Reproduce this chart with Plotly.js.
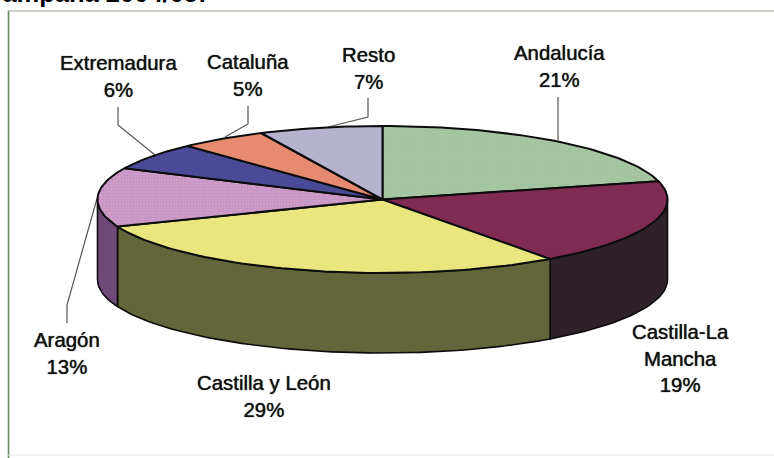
<!DOCTYPE html>
<html><head><meta charset="utf-8">
<script src="https://cdn.plot.ly/plotly-3.0.1.min.js"></script>
<style>html,body{margin:0;padding:0;background:#fff}</style></head>
<body><div id="chart" style="width:774px;height:458px"></div>
<script>
const regions = ["Andalucía","Castilla-La Mancha","Castilla y León","Aragón","Extremadura","Cataluña","Resto"];
const shares = [21,19,29,13,6,5,7];
const topColors = ["#a9c9a2","#7f2b52","#e8e67c","#cf9ccb","#4a4a98","#e68a70","#b5b3cd"];
const sideColors = ["#5f7a58","#2f2129","#63653a","#6f4a78","#2c2c60","#8c5040","#6e6d80"];

const W=774,H=458,CX=382.5,CY=199.5,RX=285,RY=73.5,DEPTH=80;
const STEP=1.5;
const pt=(deg,dy)=>{const t=deg*Math.PI/180;return [CX+RX*Math.sin(t),CY-RY*Math.cos(t)+(dy||0)];};
const arc=(a,b,dy)=>{const o=[];const n=Math.max(2,Math.ceil(Math.abs(b-a)/STEP));
  for(let i=0;i<=n;i++)o.push(pt(a+(b-a)*i/n,dy));return o;};

let cum=0;const slices=shares.map(s=>{const a=cum*3.6;cum+=s;return [a,cum*3.6];});
const traces=[];
slices.forEach(([a,b],i)=>{
  const f=Math.max(a,90),e=Math.min(b,270);
  if(e<=f)return;
  const poly=arc(f,e,0).concat(arc(e,f,DEPTH));poly.push(poly[0]);
  traces.push({type:'scatter',mode:'lines',x:poly.map(p=>p[0]),y:poly.map(p=>p[1]),fill:'toself',
    fillcolor:sideColors[i],line:{color:'#0c0c0c',width:1.6},hoverinfo:'skip',showlegend:false});
});
slices.forEach(([a,b],i)=>{
  const poly=[[CX,CY]].concat(arc(a,b,0));poly.push([CX,CY]);
  const t={type:'scatter',mode:'lines',x:poly.map(p=>p[0]),y:poly.map(p=>p[1]),fill:'toself',
    fillcolor:topColors[i],line:{color:'#0c0c0c',width:2},name:regions[i],showlegend:false,hoverinfo:'name'};
  if(i===0)t.fillpattern={shape:'.',bgcolor:'#a9c9a2',fgcolor:'#a0c2a0',size:3,solidity:0.5};
  if(i===3)t.fillpattern={shape:'.',bgcolor:'#d2a0cc',fgcolor:'#c593c2',size:3,solidity:0.5};
  traces.push(t);
});

const labelFont={family:'"Liberation Sans",Arial,sans-serif',size:20.4,color:'#111',shadow:'0 0 1px #111'};
const labels=[
 ["Andalucía<br>21%",559,66],
 ["Castilla-La<br>Mancha<br>19%",680,358],
 ["Castilla y León<br>29%",264,396],
 ["Aragón<br>13%",67,353],
 ["Extremadura<br>6%",118,76],
 ["Cataluña<br>5%",248,75],
 ["Resto<br>7%",368,68]
];
const annotations=labels.map(([text,x,y])=>({text,x:x,y:y,xref:'x',yref:'y',showarrow:false,align:'center',
  xanchor:'center',yanchor:'middle',font:labelFont}));
annotations.push({text:"Campaña 2004/05:",x:-18/W,y:1-9/H,xref:'paper',yref:'paper',xanchor:'left',yanchor:'bottom',showarrow:false,
  font:{family:'"Liberation Sans",Arial,sans-serif',size:25.5,color:'#000',weight:700}});

const leaders=["M558,97 L558,140","M368,98 L368,117 L328,127","M248,106 L248,124 L225,137",
 "M118,107 L118,125 L155,155","M98,195 L67,305 L67,323"];
const shapes=leaders.map(path=>({type:'path',path,xref:'x',yref:'y',line:{color:'#555',width:1.2},layer:'below'}));
shapes.push({type:'line',xref:'x',yref:'y',x0:8.5,x1:8.5,y0:11,y1:458,line:{color:'#5f8a5f',width:1.6}});
shapes.push({type:'line',xref:'x',yref:'y',x0:8,x1:774,y0:11,y1:11,line:{color:'#9aa892',width:1.2}});
shapes.push({type:'line',xref:'x',yref:'y',x0:8,x1:774,y0:455,y1:455,line:{color:'#e6e6e6',width:1}});

Plotly.newPlot('chart',traces,{
  width:W,height:H,margin:{l:0,r:0,t:0,b:0},paper_bgcolor:'#fff',plot_bgcolor:'#fff',
  xaxis:{range:[0,W],visible:false,fixedrange:true},
  yaxis:{range:[H,0],visible:false,fixedrange:true},
  annotations,shapes,showlegend:false
},{displayModeBar:false,staticPlot:true});
</script></body></html>
